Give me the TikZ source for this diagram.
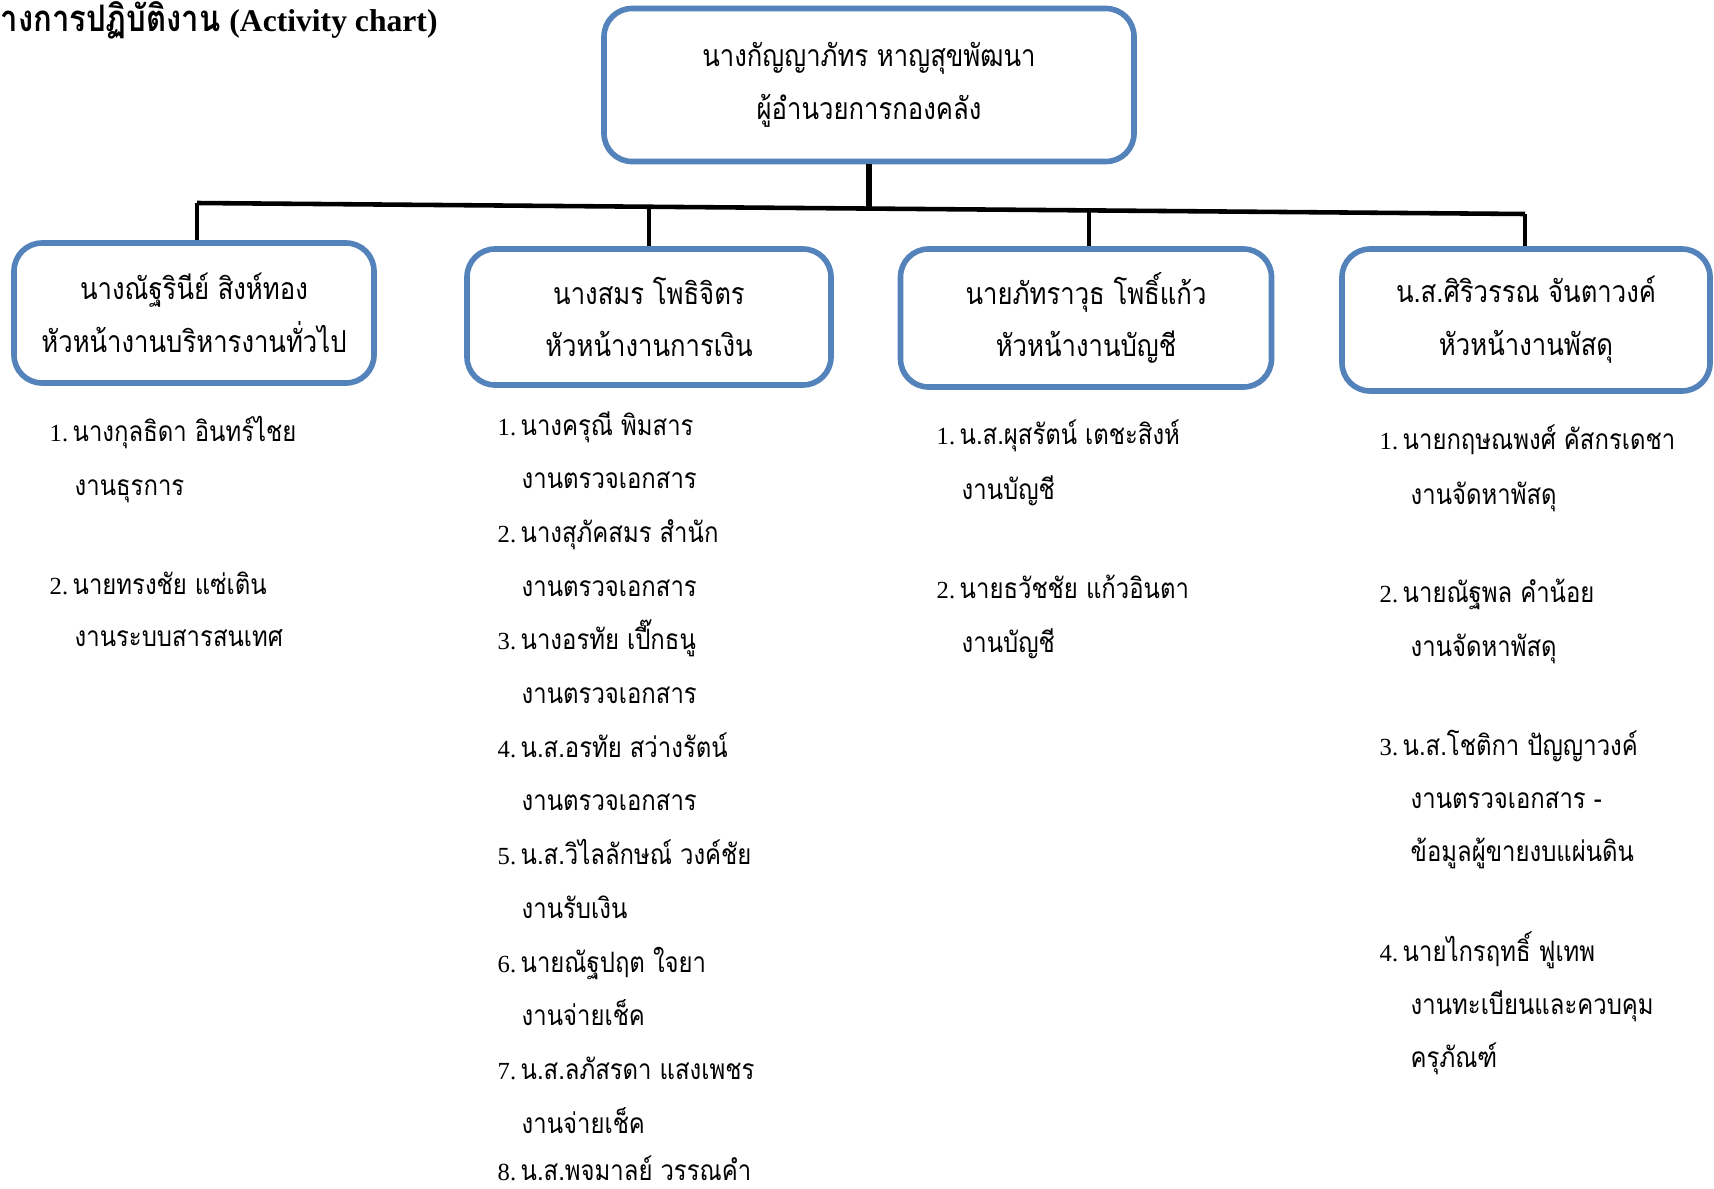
\documentclass[tikz,border=0pt]{standalone}
\usepackage{fontspec}
\setmainfont{Liberation Serif}
\newfontfamily\thaifont[Script=Thai,FakeStretch=0.85]{Loma}
\definecolor{boxblue}{RGB}{84,130,186}
\newcommand\itemno[1]{\makebox[2.3mm][l]{\rmfamily\fontsize{7pt}{7pt}\selectfont #1}}
\begin{document}
\begin{tikzpicture}[x=0.1mm,y=-0.1mm,
  orgbox/.style={draw=boxblue, line width=1.6pt, rounded corners=2.8mm, fill=white,
    align=center, inner sep=0pt,
    font=\thaifont\fontsize{8.6pt}{15pt}\selectfont},
  staff/.style={anchor=base west, inner sep=0pt,
    font=\thaifont\fontsize{8pt}{8pt}\selectfont},
  link/.style={line width=1.3pt, black}]
\useasboundingbox (0,0) rectangle (1714,1188);

% title
\node[anchor=base west, inner sep=0pt] (title) at (0,31)
  {{\thaifont\bfseries\fontsize{10.4pt}{10.4pt}\selectfont างการปฏิบัติงาน} {\bfseries\fontsize{9pt}{9pt}\selectfont (Activity chart)}};

% boxes
\node[orgbox, minimum width=530*0.1mm, minimum height=153*0.1mm] (top) at (869,85)
  {นางกัญญาภัทร หาญสุขพัฒนา\\ผู้อำนวยการกองคลัง};
\node[orgbox, minimum width=360*0.1mm, minimum height=140*0.1mm] (b1) at (194,313)
  {นางณัฐรินีย์ สิงห์ทอง\\หัวหน้างานบริหารงานทั่วไป};
\node[orgbox, minimum width=364*0.1mm, minimum height=136*0.1mm] (b2) at (649,317)
  {นางสมร โพธิจิตร\\หัวหน้างานการเงิน};
\node[orgbox, minimum width=371*0.1mm, minimum height=138*0.1mm] (b3) at (1086,318)
  {นายภัทราวุธ โพธิ์แก้ว\\หัวหน้างานบัญชี};
\node[orgbox, minimum width=368*0.1mm, minimum height=142*0.1mm] (b4) at (1526,320)
  {น.ส.ศิริวรรณ จันตาวงค์\\หัวหน้างานพัสดุ};

% connectors
\coordinate (j1) at (197,203);
\coordinate (jt) at (869,208.6);
\coordinate (j2) at (649,207);
\coordinate (j3) at (1089,210.5);
\coordinate (j4) at (1525,214);
\draw[link, line width=1.8pt] (top.south) -- (jt);
\draw[link] (j1) -- (j4);
\draw[link] (j1) -- (j1 |- b1.north);
\draw[link] (j2) -- (j2 |- b2.north);
\draw[link] (j3) -- (j3 |- b3.north);
\draw[link] (j4) -- (j4 |- b4.north);

% column 1
\node[staff] (c1a) at (49,441) {\itemno{1.}นางกุลธิดา อินทร์ไชย};
\node[staff] (c1b) at (74,495) {งานธุรการ};
\node[staff] (c1c) at (49,594) {\itemno{2.}นายทรงชัย แซ่เติน};
\node[staff] (c1d) at (74,646) {งานระบบสารสนเทศ};

% column 2
\node[staff] (c2a) at (497,435) {\itemno{1.}นางครุณี พิมสาร};
\node[staff] (c2b) at (521,488.7) {งานตรวจเอกสาร};
\node[staff] (c2c) at (497,542.4) {\itemno{2.}นางสุภัคสมร สำนัก};
\node[staff] (c2d) at (521,596.1) {งานตรวจเอกสาร};
\node[staff] (c2e) at (497,649.8) {\itemno{3.}นางอรทัย เปี๊กธนู};
\node[staff] (c2f) at (521,703.5) {งานตรวจเอกสาร};
\node[staff] (c2g) at (497,757.2) {\itemno{4.}น.ส.อรทัย สว่างรัตน์};
\node[staff] (c2h) at (521,810.9) {งานตรวจเอกสาร};
\node[staff] (c2i) at (497,864.6) {\itemno{5.}น.ส.วิไลลักษณ์ วงค์ชัย};
\node[staff] (c2j) at (521,918.3) {งานรับเงิน};
\node[staff] (c2k) at (497,972) {\itemno{6.}นายณัฐปฤต ใจยา};
\node[staff] (c2l) at (521,1025.7) {งานจ่ายเช็ค};
\node[staff] (c2m) at (497,1079.4) {\itemno{7.}น.ส.ลภัสรดา แสงเพชร};
\node[staff] (c2n) at (521,1133.1) {งานจ่ายเช็ค};
\node[staff] (c2o) at (497,1180) {\itemno{8.}น.ส.พจมาลย์ วรรณคำ};

% column 3
\node[staff] (c3a) at (936,444) {\itemno{1.}น.ส.ผุสรัตน์ เตชะสิงห์};
\node[staff] (c3b) at (961,499) {งานบัญชี};
\node[staff] (c3c) at (936,598) {\itemno{2.}นายธวัชชัย แก้วอินตา};
\node[staff] (c3d) at (961,652) {งานบัญชี};

% column 4
\node[staff] (c4a) at (1379,449.5) {\itemno{1.}นายกฤษณพงศ์ คัสกรเดชา};
\node[staff] (c4b) at (1410,504.2) {งานจัดหาพัสดุ};
\node[staff] (c4c) at (1379,602.6) {\itemno{2.}นายณัฐพล คำน้อย};
\node[staff] (c4d) at (1410,656.1) {งานจัดหาพัสดุ};
\node[staff] (c4e) at (1379,755.6) {\itemno{3.}น.ส.โชติกา ปัญญาวงค์};
\node[staff] (c4f) at (1410,808.1) {งานตรวจเอกสาร -};
\node[staff] (c4g) at (1410,861.6) {ข้อมูลผู้ขายงบแผ่นดิน};
\node[staff] (c4h) at (1379,961.1) {\itemno{4.}นายไกรฤทธิ์ ฟูเทพ};
\node[staff] (c4i) at (1410,1014.6) {งานทะเบียนและควบคุม};
\node[staff] (c4j) at (1410,1067.1) {ครุภัณฑ์};
\end{tikzpicture}
\end{document}
